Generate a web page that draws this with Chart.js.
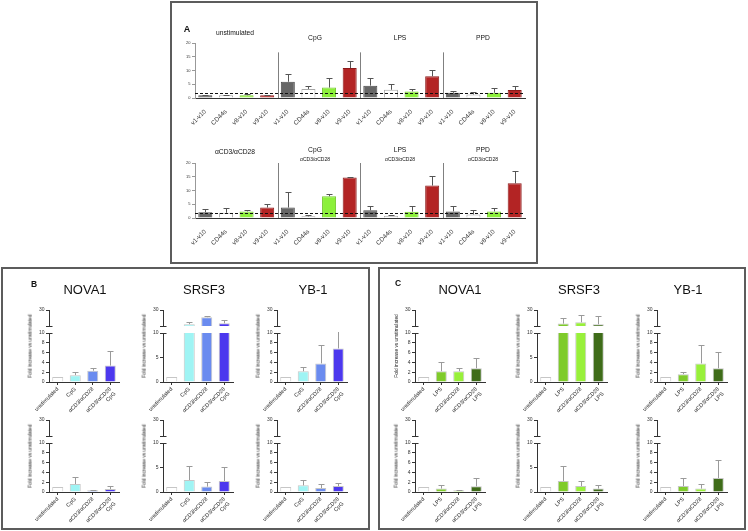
<!DOCTYPE html>
<html>
<head>
<meta charset="utf-8">
<script src="https://cdn.jsdelivr.net/npm/chart.js@4"></script>
<style>
  body { margin: 0; background: #fff; font-family: "Liberation Sans", Arial, sans-serif; }
  #wrap { position: relative; width: 748px; height: 531px; overflow: hidden; }
  .box { position: absolute; border: 2px solid #5c5c5c; box-sizing: border-box; }
  canvas { position: absolute; }
  .t { position: absolute; white-space: nowrap; transform: translate(-50%, -50%); color: #111; line-height: 1;
       -webkit-font-smoothing: antialiased; will-change: transform; }
  .yt { position: absolute; white-space: nowrap; transform: translate(-50%, -50%) rotate(-90deg); color: #222; font-size: 4.8px; line-height: 1; }
</style>
</head>
<body>
<div id="wrap">
  <div class="box" style="left:170px;top:1px;width:368px;height:263px"></div>
  <div class="box" style="left:1px;top:267px;width:369px;height:263px"></div>
  <div class="box" style="left:378px;top:267px;width:368px;height:263px"></div>
</div>
<script>
// ---- data ----
// panel A
const aCats = ["v1-v10", "CD44s", "v8-v10", "v9-v10"];
const aGroupsTop = ["unstimulated", "CpG", "LPS", "PPD"];
const aGroupsBot = ["αCD3/αCD28", "CpG", "LPS", "PPD"];
const aColors = ["#666666", "#ffffff", "#8cf03a", "#b32424"];
const aBorders = ["#4a4a4a", "#a8a8a8", "#74c72e", "#8c1b1b"];
const aTopMean = [1.0, 1.0, 1.0, 1.0, 5.9, 3.3, 3.8, 10.9, 4.5, 3.0, 2.4, 7.9, 1.9, 1.3, 1.9, 2.9];
const aTopErr  = [1.2, 1.2, 1.3, 1.1, 8.6, 4.5, 7.4, 13.6, 7.4, 5.0, 3.4, 10.3, 2.7, 2.1, 3.8, 4.4];
const aBotMean = [2.1, 1.9, 2.4, 3.8, 3.8, 0.6, 7.9, 14.7, 2.8, 0.8, 2.3, 11.8, 2.4, 1.3, 2.4, 12.6];
const aBotErr  = [3.4, 3.8, 2.9, 5.0, 9.3, 1.2, 8.6, 14.9, 4.4, 1.2, 4.2, 15.4, 4.2, 3.0, 3.8, 17.2];
const aTicks = [0, 5, 10, 15, 20];

// panels B and C (genes: NOVA1, SRSF3, YB-1)
const genes = ["NOVA1", "SRSF3", "YB-1"];
const bCats = ["unstimulated", "CpG", "αCD3/αCD28", ["αCD3/αCD28", "CpG"]];
const cCats = ["unstimulated", "LPS", "αCD3/αCD28", ["αCD3/αCD28", "LPS"]];
const bColors = ["#ffffff", "#9ff4f4", "#6a8bef", "#4c38ee"];
const cColors = ["#ffffff", "#7fcb2b", "#98f03a", "#3f6c19"];

const bTopMean = [[1.0, 1.4, 2.3, 3.35], [1.0, 12.3, 21.0, 13.4], [1.0, 2.2, 3.8, 6.85]];
const bTopErr  = [[null, 2.0, 2.8, 6.4], [null, 15.5, 22.0, 17.8], [null, 3.0, 7.5, 10.6]];
const bBotMean = [[1.0, 1.63, 0.34, 0.6], [1.0, 2.45, 1.1, 2.25], [1.0, 1.36, 0.8, 1.2]];
const bBotErr  = [[null, 3.06, 0.48, 1.3], [null, 5.3, 2.1, 5.2], [null, 2.4, 1.6, 1.9]];
const cTopMean = [[1.0, 2.2, 2.2, 2.8], [1.0, 13.0, 14.6, 12.1], [1.0, 1.6, 3.8, 2.8]];
const cTopErr  = [[null, 4.0, 2.8, 4.8], [null, 20.5, 24.2, 23.0], [null, 2.0, 7.5, 6.1]];
const cBotMean = [[1.0, 0.7, 0.34, 1.15], [1.0, 2.25, 1.2, 0.7], [1.0, 1.2, 0.7, 2.85]];
const cBotErr  = [[null, 1.4, 0.48, 2.8], [null, 5.3, 2.25, 1.4], [null, 2.9, 1.6, 6.6]];
const lowTicks = [[0, 2, 4, 6, 8, 10], [0, 5, 10], [0, 2, 4, 6, 8, 10]];

// ---- setup ----
const wrap = document.getElementById("wrap");
Chart.defaults.font.family = '"Liberation Sans", Arial, sans-serif';
Chart.defaults.color = "#222";
Chart.defaults.animation = false;
Chart.defaults.plugins.legend.display = false;
Chart.defaults.plugins.tooltip.enabled = false;

function addCanvas(left, top, w, h) {
  const c = document.createElement("canvas");
  c.width = w; c.height = h;
  c.style.left = left + "px"; c.style.top = top + "px";
  c.style.width = w + "px"; c.style.height = h + "px";
  wrap.appendChild(c);
  return c;
}

function addText(txt, x, y, size, extra) {
  const d = document.createElement("div");
  d.className = "t";
  d.textContent = txt;
  d.style.left = x + "px"; d.style.top = y + "px";
  d.style.fontSize = size + "px";
  if (extra) Object.assign(d.style, extra);
  wrap.appendChild(d);
}

function addYTitle(x, y) {
  const d = document.createElement("div");
  d.className = "yt";
  d.textContent = "Fold increase vs unstimulated";
  d.style.left = x + "px"; d.style.top = y + "px";
  wrap.appendChild(d);
}

// error bars: line up from bar top plus a cap
const errorBars = {
  id: "errorBars",
  afterDatasetsDraw(chart, args, opts) {
    const ds = chart.data.datasets[0];
    if (!ds.errs) return;
    const xs = chart.scales.x, ys = chart.scales.y, a = chart.chartArea, ctx = chart.ctx;
    ctx.save();
    ctx.beginPath();
    ctx.rect(a.left, a.top - 1, a.right - a.left, a.bottom - a.top + 1);
    ctx.clip();
    ctx.strokeStyle = opts.color || "#999";
    ctx.lineWidth = 1;
    ds.errs.forEach((e, i) => {
      if (e == null) return;
      const x = Math.round(xs.getPixelForValue(i)) + 0.5;
      const y1 = ys.getPixelForValue(ds.means[i]);
      const y2 = Math.round(ys.getPixelForValue(e)) + 0.5;
      const cap = opts.cap || 3;
      ctx.beginPath();
      ctx.moveTo(x, y1); ctx.lineTo(x, y2);
      ctx.moveTo(x - cap, y2); ctx.lineTo(x + cap, y2);
      ctx.stroke();
    });
    ctx.restore();
  }
};

// caps on the ends of a broken y axis
const axisCaps = {
  id: "axisCaps",
  afterDraw(chart, args, opts) {
    if (!opts.at) return;
    const a = chart.chartArea, ctx = chart.ctx;
    const y = Math.round(opts.at === "top" ? a.top : a.bottom) + 0.5;
    ctx.save();
    ctx.strokeStyle = "#333"; ctx.lineWidth = 1;
    ctx.beginPath();
    ctx.moveTo(a.left - 3, y); ctx.lineTo(a.left + 3.5, y);
    ctx.stroke();
    ctx.restore();
  }
};

// panel A: group dividers + dashed threshold line
const groupLines = {
  id: "groupLines",
  afterDatasetsDraw(chart, args, opts) {
    const xs = chart.scales.x, ys = chart.scales.y, a = chart.chartArea, ctx = chart.ctx;
    ctx.save();
    ctx.strokeStyle = "#808080"; ctx.lineWidth = 1;
    opts.splits.forEach(s => {
      const x = Math.round((xs.getPixelForValue(s - 1) + xs.getPixelForValue(s)) / 2) + 0.5;
      ctx.beginPath();
      ctx.moveTo(x, ys.getPixelForValue(opts.top));
      ctx.lineTo(x, a.bottom);
      ctx.stroke();
    });
    const y = Math.round(ys.getPixelForValue(opts.dashAt)) + 0.5;
    ctx.strokeStyle = "#111";
    ctx.setLineDash([3, 2]);
    ctx.beginPath();
    ctx.moveTo(a.left, y); ctx.lineTo(a.right, y);
    ctx.stroke();
    ctx.restore();
  }
};

function yAxis(min, max, tickVals, Wy, size, col) {
  return {
    min: min, max: max,
    afterBuildTicks: s => { s.ticks = tickVals.map(v => ({ value: v })); },
    afterFit: s => { s.width = Wy; s.paddingTop = 0; s.paddingBottom = 0; },
    grid: { display: true, drawOnChartArea: false, drawTicks: true, tickLength: 3, color: col, tickColor: col },
    border: { display: true, color: col, width: 1 },
    ticks: { font: { size: size }, padding: 1.5, color: "#333" }
  };
}

// ---- panel A ----
function aChart(axisX, y20, y0, means, errs, divTop) {
  const Wy = 22, plotW = 330, padR = 4, Hx = 28, padT = 5;
  const labels = aGroupsTop.flatMap(() => aCats);
  const cv = addCanvas(axisX - Wy, Math.round(y20) - padT, Wy + plotW + padR, padT + Math.round(y0 - y20) + Hx);
  new Chart(cv, {
    type: "bar",
    data: {
      labels: labels,
      datasets: [{
        data: means, means: means, errs: errs,
        backgroundColor: labels.map((l, i) => aColors[i % 4]),
        borderColor: labels.map((l, i) => aBorders[i % 4]),
        borderWidth: 1, barPercentage: 0.68, categoryPercentage: 1, clip: 0
      }]
    },
    options: {
      responsive: false,
      layout: { padding: { top: padT, left: 0, right: padR, bottom: 0 } },
      scales: {
        x: {
          offset: true,
          afterFit: s => { s.height = Hx; s.paddingLeft = 0; s.paddingRight = 0; },
          grid: { display: false },
          border: { display: true, color: "#333" },
          ticks: { minRotation: 45, maxRotation: 45, autoSkip: false, font: { size: 6.3 }, padding: 2, color: "#333" }
        },
        y: yAxis(0, 20, aTicks, Wy, 4, "#999")
      },
      plugins: {
        errorBars: { color: "#555", cap: 3 },
        groupLines: { splits: [4, 8, 12], top: divTop, dashAt: 2 }
      }
    },
    plugins: [errorBars, groupLines]
  });
}

aChart(195, 43, 98, aTopMean, aTopErr, 16.6);
aChart(195, 163, 218, aBotMean, aBotErr, 20);

addText("A", 187, 29, 9, { fontWeight: "bold" });
const aHeadX = [235, 315, 400, 483];
aGroupsTop.forEach((g, i) => addText(g, aHeadX[i], i === 0 ? 33 : 38, 6.7));
aGroupsBot.forEach((g, i) => {
  if (i === 0) { addText(g, aHeadX[i], 152, 6.7); return; }
  addText(g, aHeadX[i], 149.5, 6.7);
  addText(aGroupsBot[0], aHeadX[i], 158.5, 5);
});

// ---- panels B and C: broken y axis (0-10 below, 10-30 above) ----
function smallPanel(axisX, row, cats, colors, means, errs, ticks) {
  const Wy = 30, plotW = 70, padR = 3, Hx = 40, padT = 5;
  const W = Wy + plotW + padR;
  const ds = (data) => ({
    data: data, means: means, errs: errs,
    backgroundColor: colors, borderColor: "#c6c6c6", borderWidth: 1,
    barPercentage: 0.63, categoryPercentage: 1, clip: 0
  });
  // upper segment
  const up = addCanvas(axisX - Wy, row.y30 - padT, W, padT + (row.yUb - row.y30) + 3);
  new Chart(up, {
    type: "bar",
    data: { labels: cats, datasets: [ds(means.map(v => v > 10 ? v : null))] },
    options: {
      responsive: false,
      layout: { padding: { top: padT, bottom: 3, left: 0, right: padR } },
      scales: { x: { display: false, offset: true }, y: yAxis(10, 30, [30], Wy, 5, "#333") },
      plugins: { errorBars: { color: "#9a9a9a", cap: 3 }, axisCaps: { at: "bottom" } }
    },
    plugins: [errorBars, axisCaps]
  });
  // lower segment
  const lo = addCanvas(axisX - Wy, row.y10 - padT, W, padT + (row.y0 - row.y10) + Hx);
  new Chart(lo, {
    type: "bar",
    data: { labels: cats, datasets: [ds(means)] },
    options: {
      responsive: false,
      layout: { padding: { top: padT, bottom: 0, left: 0, right: padR } },
      scales: {
        x: {
          offset: true,
          afterFit: s => { s.height = Hx; s.paddingLeft = 0; s.paddingRight = 0; },
          grid: { display: true, drawOnChartArea: false, offset: false, tickLength: 3, color: "#333", tickColor: "#333" },
          border: { display: true, color: "#333" },
          ticks: { minRotation: 45, maxRotation: 45, autoSkip: false, font: { size: 5.5 }, padding: 1, color: "#222" }
        },
        y: yAxis(0, 10, ticks, Wy, 5, "#333")
      },
      plugins: { errorBars: { color: "#9a9a9a", cap: 3 }, axisCaps: { at: "top" } }
    },
    plugins: [errorBars, axisCaps]
  });
  addYTitle(axisX - 18.5, (row.y30 + row.y0) / 2);
}

const rows = [
  { y30: 310, yUb: 326, y10: 333, y0: 382 },
  { y30: 420, yUb: 436, y10: 443, y0: 492 }
];
const bAxisX = [49, 163, 277];
const cAxisX = [415, 537, 657];

genes.forEach((g, i) => {
  smallPanel(bAxisX[i], rows[0], bCats, bColors, bTopMean[i], bTopErr[i], lowTicks[i]);
  smallPanel(bAxisX[i], rows[1], bCats, bColors, bBotMean[i], bBotErr[i], lowTicks[i]);
  smallPanel(cAxisX[i], rows[0], cCats, cColors, cTopMean[i], cTopErr[i], lowTicks[i]);
  smallPanel(cAxisX[i], rows[1], cCats, cColors, cBotMean[i], cBotErr[i], lowTicks[i]);
});

addText("B", 34, 284, 8.5, { fontWeight: "bold" });
addText("C", 398, 283, 8.5, { fontWeight: "bold" });
const bTitleX = [85, 204, 313];
const cTitleX = [460, 579, 688];
genes.forEach((g, i) => {
  addText(g, bTitleX[i], 288.5, 13);
  addText(g, cTitleX[i], 288.5, 13);
});
</script>
</body>
</html>
